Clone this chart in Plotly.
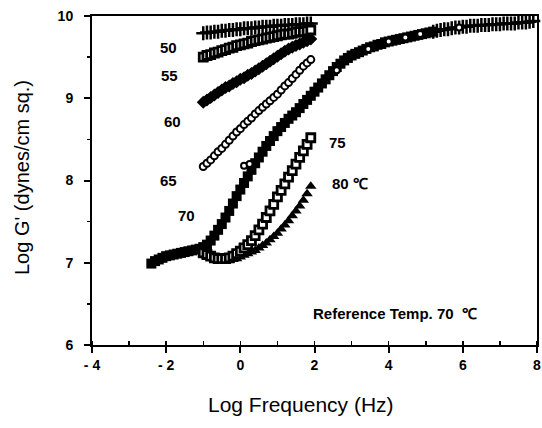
import plotly.graph_objects as go

# ---- data ----
freq = [-1.0, -0.9, -0.8, -0.7, -0.6, -0.5, -0.4, -0.3, -0.2, -0.1,
        0.0, 0.1, 0.2, 0.3, 0.4, 0.5, 0.6, 0.7, 0.8, 0.9,
        1.0, 1.1, 1.2, 1.3, 1.4, 1.5, 1.6, 1.7, 1.8, 1.9]

g_cross = [9.79, 9.80, 9.80, 9.81, 9.81, 9.82, 9.82, 9.83, 9.83, 9.84,
           9.84, 9.85, 9.85, 9.85, 9.86, 9.86, 9.87, 9.87, 9.87, 9.88,
           9.88, 9.88, 9.89, 9.89, 9.89, 9.90, 9.90, 9.90, 9.91, 9.91]
g_50 = [9.50, 9.52, 9.53, 9.55, 9.56, 9.58, 9.59, 9.61, 9.62, 9.64,
        9.65, 9.66, 9.67, 9.69, 9.70, 9.71, 9.72, 9.73, 9.74, 9.75,
        9.76, 9.77, 9.78, 9.78, 9.79, 9.80, 9.81, 9.81, 9.82, 9.83]
g_55 = [8.95, 8.98, 9.01, 9.04, 9.07, 9.10, 9.13, 9.15, 9.18, 9.20,
        9.23, 9.25, 9.28, 9.30, 9.33, 9.36, 9.39, 9.42, 9.45, 9.48,
        9.51, 9.54, 9.57, 9.60, 9.62, 9.64, 9.66, 9.68, 9.70, 9.72]
g_60 = [8.17, 8.21, 8.25, 8.30, 8.35, 8.39, 8.44, 8.49, 8.54, 8.59,
        8.63, 8.68, 8.72, 8.76, 8.81, 8.85, 8.89, 8.93, 8.97, 9.01,
        9.05, 9.10, 9.15, 9.19, 9.24, 9.29, 9.34, 9.39, 9.43, 9.47]
g_75 = [7.12, 7.10, 7.08, 7.06, 7.05, 7.05, 7.05, 7.06, 7.08, 7.11,
        7.14, 7.18, 7.22, 7.27, 7.33, 7.40, 7.47, 7.55, 7.63, 7.71,
        7.80, 7.88, 7.96, 8.04, 8.12, 8.20, 8.28, 8.36, 8.44, 8.52]
g_80 = [7.10, 7.08, 7.06, 7.04, 7.03, 7.02, 7.02, 7.03, 7.04, 7.05,
        7.07, 7.09, 7.11, 7.13, 7.15, 7.18, 7.21, 7.24, 7.28, 7.32,
        7.36, 7.41, 7.46, 7.51, 7.57, 7.63, 7.69, 7.76, 7.84, 7.93]

# master curve (reference temperature 70 C)
master_x = [-2.4, -2.3, -2.2, -2.1, -2.0, -1.9, -1.8, -1.7, -1.6, -1.5,
            -1.4, -1.3, -1.2, -1.1, -1.0, -0.9, -0.8, -0.7, -0.6, -0.5,
            -0.4, -0.3, -0.2, -0.1, 0.0, 0.1, 0.2, 0.3, 0.4, 0.5,
            0.6, 0.7, 0.8, 0.9, 1.0, 1.1, 1.2, 1.3, 1.4, 1.5,
            1.6, 1.7, 1.8, 1.9, 2.0, 2.1, 2.2, 2.3, 2.4, 2.5,
            2.6, 2.7, 2.8, 2.9, 3.0, 3.1, 3.2, 3.3, 3.4, 3.5,
            3.6, 3.7, 3.8, 3.9, 4.0, 4.1, 4.2, 4.3, 4.4, 4.5,
            4.6, 4.7, 4.8, 4.9, 5.0, 5.1, 5.2]
master_y = [6.99, 7.02, 7.04, 7.06, 7.08, 7.09, 7.10, 7.11, 7.12, 7.13,
            7.14, 7.15, 7.16, 7.17, 7.19, 7.22, 7.27, 7.33, 7.40, 7.47,
            7.55, 7.63, 7.72, 7.81, 7.89, 7.97, 8.05, 8.13, 8.21, 8.28,
            8.35, 8.42, 8.48, 8.54, 8.60, 8.65, 8.70, 8.75, 8.79, 8.83,
            8.88, 8.93, 8.98, 9.03, 9.08, 9.13, 9.18, 9.23, 9.28, 9.33,
            9.38, 9.42, 9.46, 9.49, 9.52, 9.54, 9.56, 9.58, 9.60, 9.62,
            9.63, 9.65, 9.66, 9.68, 9.69, 9.70, 9.71, 9.72, 9.73, 9.74,
            9.75, 9.76, 9.77, 9.78, 9.79, 9.80, 9.81]
master_cross_x = [5.2, 5.3, 5.4, 5.5, 5.6, 5.7, 5.8, 5.9, 6.0, 6.1,
                  6.2, 6.3, 6.4, 6.5, 6.6, 6.7, 6.8, 6.9, 7.0, 7.1,
                  7.2, 7.3, 7.4, 7.5, 7.6, 7.7, 7.8, 7.9]
master_cross_y = [9.81, 9.82, 9.83, 9.84, 9.84, 9.85, 9.86, 9.86, 9.87, 9.87,
                  9.88, 9.88, 9.88, 9.89, 9.89, 9.89, 9.90, 9.90, 9.90, 9.91,
                  9.91, 9.91, 9.91, 9.92, 9.92, 9.92, 9.93, 9.94]
master_open_x = [0.1, 0.25, 2.6, 3.45, 4.0, 4.45, 4.85, 5.9]
master_open_y = [8.18, 8.20, 9.34, 9.60, 9.69, 9.74, 9.78, 9.86]

labels = ["50", "55", "60", "65", "70", "75", "80 ℃"]
label_x = [-1.95, -1.9, -1.84, -1.93, -1.44, 2.62, 2.95]
label_y = [9.62, 9.28, 8.72, 8.0, 7.57, 8.46, 7.96]

x_ticks = [-4, -2, 0, 2, 4, 6, 8]
x_ticktext = ["- 4", "- 2", "0", "2", "4", "6", "8"]
y_ticks = [6, 7, 8, 9, 10]

FONT = "Liberation Sans, Arial, sans-serif"
BLACK = "black"

fig = go.Figure()

def add(x, y, symbol, size, fill=BLACK, lw=0):
    fig.add_trace(go.Scatter(
        x=x, y=y, mode="markers", showlegend=False, hoverinfo="skip",
        cliponaxis=False,
        marker=dict(symbol=symbol, size=size, color=fill,
                    line=dict(color=BLACK, width=lw))))

# master curve
add(master_x, master_y, "square", 10)
add(master_cross_x, master_cross_y, "cross-thin", 10, lw=2.5)
add(master_open_x, master_open_y, "circle", 6, fill="white", lw=2)

# isothermal curves
add(freq, g_cross, "cross-thin", 10, lw=2.5)
add(freq, g_50, "square", 8, fill="white", lw=2.8)
add(freq, g_55, "diamond", 10)
add(freq, g_60, "circle", 7, fill="white", lw=2)
add(freq, g_80, "triangle-up", 10)
add(freq, g_75, "square", 8, fill="white", lw=2.8)

for t, x, y in zip(labels, label_x, label_y):
    fig.add_annotation(x=x, y=y, text=t, showarrow=False,
                       font=dict(family=FONT, size=15, color=BLACK, weight="bold"))

fig.add_annotation(x=4.18, y=6.38, text="Reference Temp. 70  ℃", showarrow=False,
                   font=dict(family=FONT, size=15, color=BLACK, weight="bold"))

# axis titles
fig.add_annotation(xref="paper", yref="paper", x=(301 - 92) / 445, y=(345 - 404) / 329,
                   xanchor="center", yanchor="middle",
                   text="Log Frequency (Hz)", showarrow=False,
                   font=dict(family=FONT, size=21, color=BLACK))
fig.add_annotation(xref="paper", yref="paper", x=(22 - 92) / 445, y=(345 - 178) / 329,
                   xanchor="center", yanchor="middle",
                   text="Log G' (dynes/cm sq.)", showarrow=False, textangle=-90,
                   font=dict(family=FONT, size=20, color=BLACK))

fig.update_xaxes(
    range=[-4, 8], tickvals=x_ticks, ticktext=x_ticktext, automargin=False,
    ticklabeloverflow="allow",
    showgrid=False, zeroline=False, showline=True, linecolor=BLACK, linewidth=2,
    mirror=True, ticks="outside", ticklen=6, tickwidth=2, tickcolor=BLACK,
    minor=dict(dtick=1, ticks="inside", ticklen=4, tickwidth=1.5, tickcolor=BLACK),
    tickfont=dict(family=FONT, size=14, color=BLACK, weight="bold"))
fig.update_yaxes(
    range=[6, 10], tickvals=y_ticks, automargin=False, ticklabelstandoff=8,
    showgrid=False, zeroline=False, showline=True, linecolor=BLACK, linewidth=2,
    mirror=True, ticks="outside", ticklen=6, tickwidth=2, tickcolor=BLACK,
    minor=dict(dtick=0.5, ticks="outside", ticklen=3, tickwidth=1.5, tickcolor=BLACK),
    tickfont=dict(family=FONT, size=14, color=BLACK, weight="bold"))

fig.update_layout(
    width=542, height=428, plot_bgcolor="white", paper_bgcolor="white",
    margin=dict(l=92, r=5, t=16, b=83))

fig.write_html(
    "out.html",
    config={"displayModeBar": False, "staticPlot": True},
    post_script="document.body.style.margin='0';document.body.style.overflow='hidden';")
